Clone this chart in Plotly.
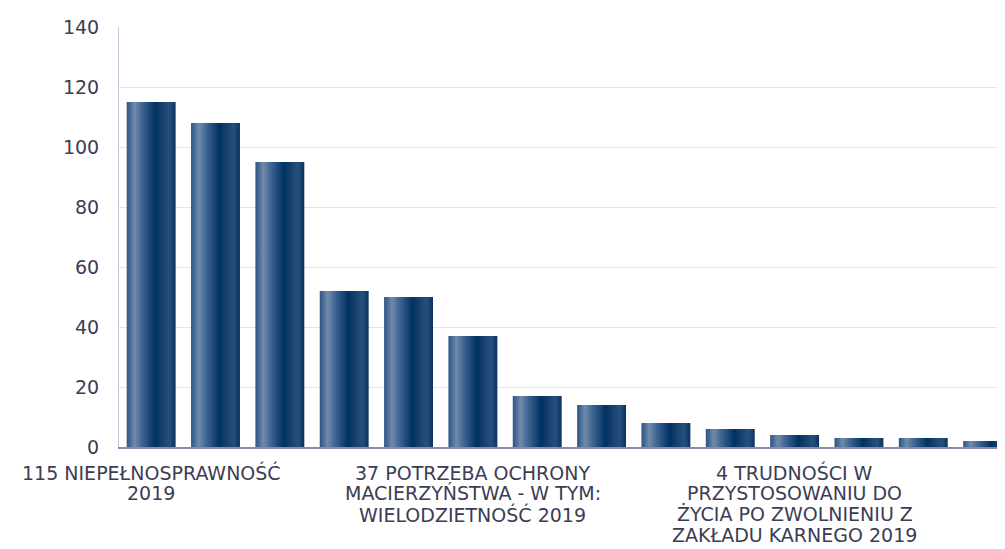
import plotly.graph_objects as go

categories = [
    "115 NIEPEŁNOSPRAWNOŚĆ<br>2019",
    "108 DŁUGOTRWAŁA LUB CIĘŻKA CHOROBA 2019",
    "95 UBÓSTWO 2019",
    "52 BEZROBOCIE 2019",
    "50 BEZRADNOŚĆ W SPRAWACH OPIEKUŃCZO-WYCHOWAWCZYCH 2019",
    "37 POTRZEBA OCHRONY<br>MACIERZYŃSTWA - W TYM:<br>WIELODZIETNOŚĆ 2019",
    "17 ALKOHOLIZM 2019",
    "14 POTRZEBA OCHRONY MACIERZYŃSTWA 2019",
    "8 PRZEMOC W RODZINIE 2019",
    "6 BEZDOMNOŚĆ 2019",
    "4 TRUDNOŚCI W<br>PRZYSTOSOWANIU DO<br>ŻYCIA PO ZWOLNIENIU Z<br>ZAKŁADU KARNEGO 2019",
    "3 ZDARZENIE LOSOWE 2019",
    "3 NARKOMANIA 2019",
    "2 SYTUACJA KRYZYSOWA 2019",
]
values = [115, 108, 95, 52, 50, 37, 17, 14, 8, 6, 4, 3, 3, 2]
shown_ticks = [0, 5, 10]
y_ticks = [0, 20, 40, 60, 80, 100, 120, 140]

BAR_W = 0.76
TEXT = "#3c3c54"
FONT = "DejaVu Sans, Open Sans, sans-serif"
LABEL_SIZE = 19
LINE_PITCH = 20.8
FIRST_LINE_OFFSET = 25.5
gradient = [
    [0.0, "#2b5384"],
    [0.16, "#6f8bab"],
    [0.32, "#3e6491"],
    [0.58, "#003163"],
    [0.78, "#1e4773"],
    [0.88, "#264f7b"],
    [1.0, "#0b305f"],
]

fig = go.Figure()
for i, (cat, v) in enumerate(zip(categories, values)):
    x0, x1 = i - BAR_W / 2, i + BAR_W / 2
    fig.add_trace(go.Scatter(
        x=[x0, x1, x1, x0, x0],
        y=[0, 0, v, v, 0],
        mode="lines",
        line=dict(width=0),
        fill="toself",
        fillgradient=dict(type="horizontal", colorscale=gradient),
        name=cat.replace("<br>", " "),
        hoverinfo="skip",
        showlegend=False,
    ))

# category labels (only every fifth one is shown), one line at a time
for i in shown_ticks:
    for k, line in enumerate(categories[i].split("<br>")):
        fig.add_annotation(
            x=i, xref="x", y=0, yref="paper",
            text=line, showarrow=False,
            xanchor="center", yanchor="middle",
            yshift=-(FIRST_LINE_OFFSET + k * LINE_PITCH),
            font=dict(family=FONT, size=LABEL_SIZE, color=TEXT),
        )

# page body has an 8px margin, so the figure is offset accordingly
fig.update_layout(
    width=997, height=541,
    margin=dict(l=111, r=0, t=19, b=102),
    paper_bgcolor="white", plot_bgcolor="white",
    font=dict(family=FONT, size=17, color=TEXT),
    showlegend=False,
)
fig.update_xaxes(
    range=[-0.5, 13.27],
    tickvals=shown_ticks,
    showticklabels=False,
    showgrid=False, zeroline=False,
    showline=True, linecolor="#8a8aaa", linewidth=1.5,
    ticks="",
)
fig.update_yaxes(
    range=[0, 140],
    tickvals=y_ticks,
    showgrid=True, gridcolor="#e2e2ec", gridwidth=1,
    zeroline=False,
    showline=True, linecolor="#c8c8dc", linewidth=1,
    ticks="", ticklabelstandoff=15,
    tickfont=dict(family=FONT, size=19, color=TEXT),
)

fig.write_html("out.html")
